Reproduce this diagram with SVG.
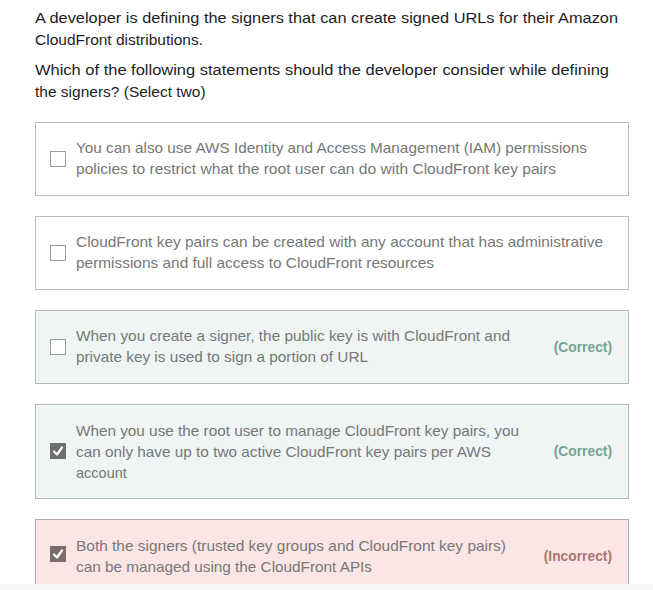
<svg xmlns="http://www.w3.org/2000/svg" width="653" height="590" viewBox="0 0 653 590">
<style>
.q{font-family:"Liberation Sans",Arial,sans-serif;font-size:15.5px;fill:#1d1d1f}
.o{font-family:"Liberation Sans",Arial,sans-serif;font-size:14.5px;fill:#777777}
.box{fill:#ffffff;stroke:#bdbdbd;stroke-width:1}
.ok{fill:#eff4f4;stroke:#b3b8b8;stroke-width:1}
.bad{fill:#fbe6e5;stroke:#b8aaaa;stroke-width:1}
.cb{fill:#ffffff;stroke:#9a9a9a;stroke-width:1}
.cbon{fill:#6e6e6e}
.cbbad{fill:#7c6d6d}
.chk{fill:none;stroke:#ffffff;stroke-width:2.2;stroke-linecap:round;stroke-linejoin:round}
.lc{font-family:"Liberation Sans",Arial,sans-serif;font-size:13.8px;font-weight:bold;fill:#74a394;text-anchor:end}
.li{font-family:"Liberation Sans",Arial,sans-serif;font-size:13.8px;font-weight:bold;fill:#ad7670;text-anchor:end}
</style>
<rect width="653" height="590" fill="#ffffff"/>
<g id="question">
<text class="q" x="35" y="23" textLength="583" lengthAdjust="spacingAndGlyphs">A developer is defining the signers that can create signed URLs for their Amazon</text>
<text class="q" x="35" y="45">CloudFront distributions.</text>
<text class="q" x="35" y="75" textLength="574" lengthAdjust="spacingAndGlyphs">Which of the following statements should the developer consider while defining</text>
<text class="q" x="35" y="97">the signers? (Select two)</text>
</g>
<g id="option1">
<rect class="box" x="35.5" y="122.5" width="593" height="73"/>
<rect class="cb" x="50.5" y="151.5" width="15" height="15"/>
<text class="o" x="76" y="153" textLength="511" lengthAdjust="spacingAndGlyphs">You can also use AWS Identity and Access Management (IAM) permissions</text>
<text class="o" x="76" y="174" textLength="480" lengthAdjust="spacingAndGlyphs">policies to restrict what the root user can do with CloudFront key pairs</text>
</g>
<g id="option2">
<rect class="box" x="35.5" y="216.5" width="593" height="73"/>
<rect class="cb" x="50.5" y="245.5" width="15" height="15"/>
<text class="o" x="76" y="247" textLength="527" lengthAdjust="spacingAndGlyphs">CloudFront key pairs can be created with any account that has administrative</text>
<text class="o" x="76" y="268" textLength="358" lengthAdjust="spacingAndGlyphs">permissions and full access to CloudFront resources</text>
</g>
<g id="option3">
<rect class="ok" x="35.5" y="310.5" width="593" height="73"/>
<rect class="cb" x="50.5" y="339.5" width="15" height="15"/>
<text class="o" x="76" y="341" textLength="434" lengthAdjust="spacingAndGlyphs">When you create a signer, the public key is with CloudFront and</text>
<text class="o" x="76" y="362" textLength="292" lengthAdjust="spacingAndGlyphs">private key is used to sign a portion of URL</text>
<text class="lc" x="612" y="352">(Correct)</text>
</g>
<g id="option4">
<rect class="ok" x="35.5" y="404.5" width="593" height="94"/>
<rect class="cbon" x="50" y="443" width="16" height="16"/>
<path class="chk" d="M54 451.5 L57 454.5 L62 447.5"/>
<text class="o" x="76" y="436" textLength="443" lengthAdjust="spacingAndGlyphs">When you use the root user to manage CloudFront key pairs, you</text>
<text class="o" x="76" y="457" textLength="415" lengthAdjust="spacingAndGlyphs">can only have up to two active CloudFront key pairs per AWS</text>
<text class="o" x="76" y="478">account</text>
<text class="lc" x="612" y="456">(Correct)</text>
</g>
<g id="option5">
<rect class="bad" x="35.5" y="519.5" width="593" height="80"/>
<rect class="cbbad" x="50" y="546" width="16" height="16"/>
<path class="chk" d="M54 554.5 L57 557.5 L62 550.5"/>
<text class="o" x="76" y="551" textLength="430" lengthAdjust="spacingAndGlyphs">Both the signers (trusted key groups and CloudFront key pairs)</text>
<text class="o" x="76" y="572" textLength="296" lengthAdjust="spacingAndGlyphs">can be managed using the CloudFront APIs</text>
<text class="li" x="612" y="561">(Incorrect)</text>
</g>
<rect x="0" y="584" width="653" height="6" fill="#f4f6f8"/>
</svg>
